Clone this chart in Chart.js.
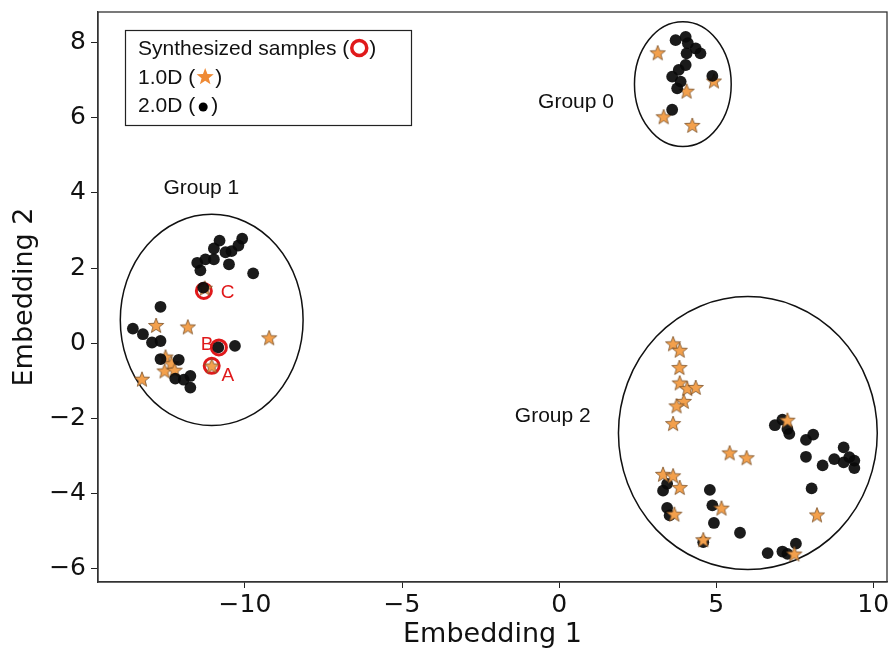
<!DOCTYPE html>
<html>
<head>
<meta charset="utf-8">
<script src="https://cdn.jsdelivr.net/npm/chart.js@4.4.1/dist/chart.umd.min.js"></script>
<style>
  html, body { margin: 0; padding: 0; background: #fff; }
  #wrap { width: 891px; height: 651px; }
</style>
</head>
<body>
<div id="wrap"><canvas id="embChart" width="891" height="651"></canvas></div>
<script>
// 축 범위와 눈금
const xRange = [-14.68, 10.44];
const yRange = [-6.35, 8.81];
const xTicks = [-10, -5, 0, 5, 10];
const yTicks = [-6, -4, -2, 0, 2, 4, 6, 8];

// Group 0 (2.0D 점 / 1.0D 별)
const g0Dots = [
  [3.71, 8.06], [4.03, 8.15], [4.10, 7.98], [4.06, 7.71], [4.35, 7.84],
  [4.50, 7.71], [4.03, 7.40], [3.81, 7.27], [3.60, 7.09], [3.87, 6.96],
  [3.76, 6.78], [4.88, 7.11], [3.60, 6.21],
];
const g0Stars = [[3.14, 7.71], [4.06, 6.69], [4.93, 6.96], [3.33, 6.01], [4.24, 5.78]];

// Group 1
const g1Dots = [
  [-10.09, 2.78], [-10.21, 2.60], [-10.43, 2.45], [-10.62, 2.42], [-10.81, 2.73],
  [-10.99, 2.52], [-10.99, 2.23], [-11.26, 2.23], [-11.52, 2.14], [-11.42, 1.94],
  [-10.51, 2.10], [-9.74, 1.86], [-11.33, 1.48], [-12.69, 0.97], [-13.57, 0.39],
  [-13.25, 0.24], [-12.96, 0.02], [-12.69, 0.06], [-12.69, -0.42], [-12.11, -0.44],
  [-12.22, -0.94], [-11.95, -0.97], [-11.74, -0.87], [-11.74, -1.18], [-10.85, -0.11],
  [-10.32, -0.07],
];
const g1Stars = [
  [-12.83, 0.46], [-11.82, 0.42], [-9.23, 0.13], [-12.53, -0.38], [-12.34, -0.56],
  [-12.56, -0.75], [-12.24, -0.73], [-13.28, -0.97], [-11.06, -0.62], [-11.28, 1.45],
];

// Group 2
const g2Dots = [
  [7.11, -2.03], [6.87, -2.18], [7.27, -2.28], [7.33, -2.41], [7.86, -2.57],
  [8.09, -2.43], [7.86, -3.02], [8.39, -3.25], [8.76, -3.08], [9.06, -2.77],
  [9.06, -3.17], [9.24, -3.03], [9.40, -3.12], [9.40, -3.32], [8.04, -3.86],
  [3.44, -3.74], [3.31, -3.92], [3.44, -4.38], [3.52, -4.58], [4.80, -3.90],
  [4.88, -4.31], [4.93, -4.78], [5.76, -5.04], [4.59, -5.29], [6.64, -5.58],
  [7.11, -5.54], [7.27, -5.60], [7.54, -5.33],
];
const g2Stars = [
  [3.63, -0.03], [3.84, -0.20], [3.83, -0.66], [3.84, -1.07], [4.08, -1.22],
  [4.35, -1.19], [3.97, -1.56], [3.74, -1.68], [3.63, -2.15], [5.43, -2.93],
  [5.97, -3.06], [3.31, -3.50], [3.63, -3.54], [3.84, -3.85], [5.17, -4.40],
  [3.67, -4.56], [8.21, -4.58], [4.59, -5.24], [7.49, -5.62], [7.27, -2.06],
];

// 합성 샘플 A, B, C
const synthNames = ['A', 'B', 'C'];
const synthPoints = [[-11.06, -0.60], [-10.83, -0.11], [-11.31, 1.39]];
const synthLabelPos = [[-10.55, -0.87], [-11.21, -0.04], [-10.55, 1.35]];

// 그룹 타원 (중심, 반지름) 과 라벨 위치
const groupNames = ['Group 0', 'Group 1', 'Group 2'];
const groupCenters = [[3.94, 6.89], [-11.06, 0.62], [6.01, -2.39]];
const groupRadii = [[1.54, 1.66], [2.91, 2.81], [4.12, 3.63]];
const groupLabelPos = [[0.54, 6.41], [-11.39, 4.12], [-0.2, -1.93]];

// 범례 문구
const legendTexts = ['Synthesized samples (', '1.0D (', '2.0D ('];

const COLORS = {
  dot: 'rgba(10, 10, 10, 0.93)',
  star: '#f3a04c',
  starEdge: '#7a4f26',
  legendStar: '#ef8a35',
  synth: '#e0191b',
};

const toXY = (arr) => arr.map(([x, y]) => ({ x, y }));

// 별 모양 이미지 만들기
function makeStar(r, fill, edge) {
  const size = Math.ceil(r * 2 + 4);
  const c = document.createElement('canvas');
  c.width = size;
  c.height = size;
  const g = c.getContext('2d');
  starPath(g, size / 2, size / 2, r);
  g.fillStyle = fill;
  g.fill();
  if (edge) {
    g.lineWidth = 0.8;
    g.strokeStyle = edge;
    g.stroke();
  }
  return c;
}

function starPath(g, cx, cy, r) {
  const inner = r * 0.42;
  g.beginPath();
  for (let i = 0; i < 10; i++) {
    const rad = i % 2 === 0 ? r : inner;
    const a = -Math.PI / 2 + (i * Math.PI) / 5;
    const px = cx + rad * Math.cos(a);
    const py = cy + rad * Math.sin(a);
    if (i === 0) g.moveTo(px, py);
    else g.lineTo(px, py);
  }
  g.closePath();
}

const starImg = makeStar(8, COLORS.star, COLORS.starEdge);

function dotSet(data) {
  return {
    data: toXY(data),
    pointStyle: 'circle',
    pointRadius: 5.9,
    pointBackgroundColor: COLORS.dot,
    pointBorderWidth: 0,
    showLine: false,
  };
}

function starSet(data) {
  return {
    data: toXY(data),
    pointStyle: starImg,
    pointRadius: 8,
    showLine: false,
  };
}

// 눈금 글자 때문에 생기는 여백 없애기
function fixAxis(size, key) {
  return (scale) => {
    scale[key] = size;
    scale.paddingTop = 0;
    scale.paddingBottom = 0;
    scale.paddingLeft = 0;
    scale.paddingRight = 0;
  };
}

// 타원, 라벨, 범례, 테두리 그리기
const overlayPlugin = {
  id: 'overlay',
  beforeDatasetsDraw(chart) {
    const { ctx } = chart;
    const xs = chart.scales.x;
    const ys = chart.scales.y;
    ctx.save();
    ctx.strokeStyle = '#111';
    ctx.lineWidth = 1.5;
    groupCenters.forEach(([cx, cy], i) => {
      const px = xs.getPixelForValue(cx);
      const py = ys.getPixelForValue(cy);
      const rx = Math.abs(xs.getPixelForValue(cx + groupRadii[i][0]) - px);
      const ry = Math.abs(ys.getPixelForValue(cy + groupRadii[i][1]) - py);
      ctx.beginPath();
      ctx.ellipse(px, py, rx, ry, 0, 0, Math.PI * 2);
      ctx.stroke();
    });
    ctx.restore();
  },
  afterDraw(chart) {
    const { ctx, chartArea } = chart;
    const xs = chart.scales.x;
    const ys = chart.scales.y;
    ctx.save();

    // 그룹 라벨
    ctx.font = '21px "Liberation Sans", Arial, sans-serif';
    ctx.fillStyle = '#111';
    ctx.textAlign = 'center';
    ctx.textBaseline = 'middle';
    groupNames.forEach((name, i) => {
      const [lx, ly] = groupLabelPos[i];
      ctx.fillText(name, xs.getPixelForValue(lx), ys.getPixelForValue(ly));
    });

    // A, B, C 라벨
    ctx.font = '19px "Liberation Sans", Arial, sans-serif';
    ctx.fillStyle = COLORS.synth;
    synthNames.forEach((name, i) => {
      const [lx, ly] = synthLabelPos[i];
      ctx.fillText(name, xs.getPixelForValue(lx), ys.getPixelForValue(ly));
    });

    // 범례 상자
    const bx = 125, by = 30, bw = 286, bh = 95;
    ctx.fillStyle = '#fff';
    ctx.fillRect(bx, by, bw, bh);
    ctx.strokeStyle = '#222';
    ctx.lineWidth = 1.2;
    ctx.strokeRect(bx + 0.5, by + 0.5, bw, bh);

    ctx.font = '21px "Liberation Sans", Arial, sans-serif';
    ctx.textAlign = 'left';
    const rows = [49, 78, 106];
    legendTexts.forEach((t, i) => {
      const w = ctx.measureText(t).width;
      const tx = 138;
      const ty = rows[i];
      ctx.fillStyle = '#111';
      ctx.fillText(t, tx, ty);
      let sx = tx + w;
      if (i === 0) {
        ctx.beginPath();
        ctx.arc(sx + 10, ty - 1, 7.5, 0, Math.PI * 2);
        ctx.strokeStyle = COLORS.synth;
        ctx.lineWidth = 3.5;
        ctx.stroke();
        sx += 20;
      } else if (i === 1) {
        starPath(ctx, sx + 10, ty - 1, 9);
        ctx.fillStyle = COLORS.legendStar;
        ctx.fill();
        sx += 20;
      } else {
        ctx.beginPath();
        ctx.arc(sx + 8, ty + 1, 4.5, 0, Math.PI * 2);
        ctx.fillStyle = '#000';
        ctx.fill();
        sx += 16;
      }
      ctx.fillStyle = '#111';
      ctx.fillText(')', sx, ty);
    });

    // 위/오른쪽 테두리
    ctx.strokeStyle = '#333';
    ctx.lineWidth = 1.3;
    ctx.strokeRect(chartArea.left, chartArea.top, chartArea.right - chartArea.left, chartArea.bottom - chartArea.top);
    ctx.restore();
  },
};

const tickFont = { family: '"DejaVu Sans", sans-serif', size: 25 };
const titleFont = { family: '"DejaVu Sans", sans-serif', size: 27 };

function createEmbeddingChart() {
  const ctx = document.getElementById('embChart');
  return new Chart(ctx.getContext('2d'), {
    type: 'scatter',
    data: {
      datasets: [
        starSet(g2Stars),
        dotSet(g2Dots),
        dotSet(g0Dots),
        starSet(g0Stars),
        dotSet(g1Dots),
        starSet(g1Stars),
        {
          data: toXY(synthPoints),
          pointStyle: 'circle',
          pointRadius: 7.5,
          pointBackgroundColor: 'rgba(0,0,0,0)',
          pointBorderColor: COLORS.synth,
          pointBorderWidth: 3,
          showLine: false,
        },
      ],
    },
    options: {
      responsive: false,
      animation: false,
      devicePixelRatio: 1,
      layout: { autoPadding: false, padding: { top: 12, right: 4, left: 0, bottom: 0 } },
      plugins: {
        legend: { display: false },
        tooltip: { enabled: false },
      },
      scales: {
        x: {
          type: 'linear',
          min: xRange[0],
          max: xRange[1],
          afterBuildTicks: (scale) => {
            scale.ticks = xTicks.map((v) => ({ value: v }));
          },
          afterFit: fixAxis(69, 'height'),
          grid: { drawOnChartArea: false, drawTicks: true, tickLength: 6, color: '#222' },
          border: { display: true, color: '#333', width: 1.3 },
          ticks: {
            font: tickFont,
            color: '#111',
            padding: 2,
            callback: (v) => String(v).replace('-', '\u2212'),
          },
          title: { display: true, text: 'Embedding 1', font: titleFont, color: '#111', padding: { top: 0, bottom: 0 } },
        },
        y: {
          type: 'linear',
          min: yRange[0],
          max: yRange[1],
          afterBuildTicks: (scale) => {
            scale.ticks = yTicks.map((v) => ({ value: v }));
          },
          afterFit: fixAxis(98, 'width'),
          grid: { drawOnChartArea: false, drawTicks: true, tickLength: 7, color: '#222' },
          border: { display: true, color: '#333', width: 1.3 },
          ticks: {
            font: tickFont,
            color: '#111',
            padding: 5,
            callback: (v) => String(v).replace('-', '\u2212'),
          },
          title: { display: true, text: 'Embedding 2', font: titleFont, color: '#111', padding: { top: 9, bottom: 0 } },
        },
      },
    },
    plugins: [overlayPlugin],
  });
}

createEmbeddingChart();
</script>
</body>
</html>
